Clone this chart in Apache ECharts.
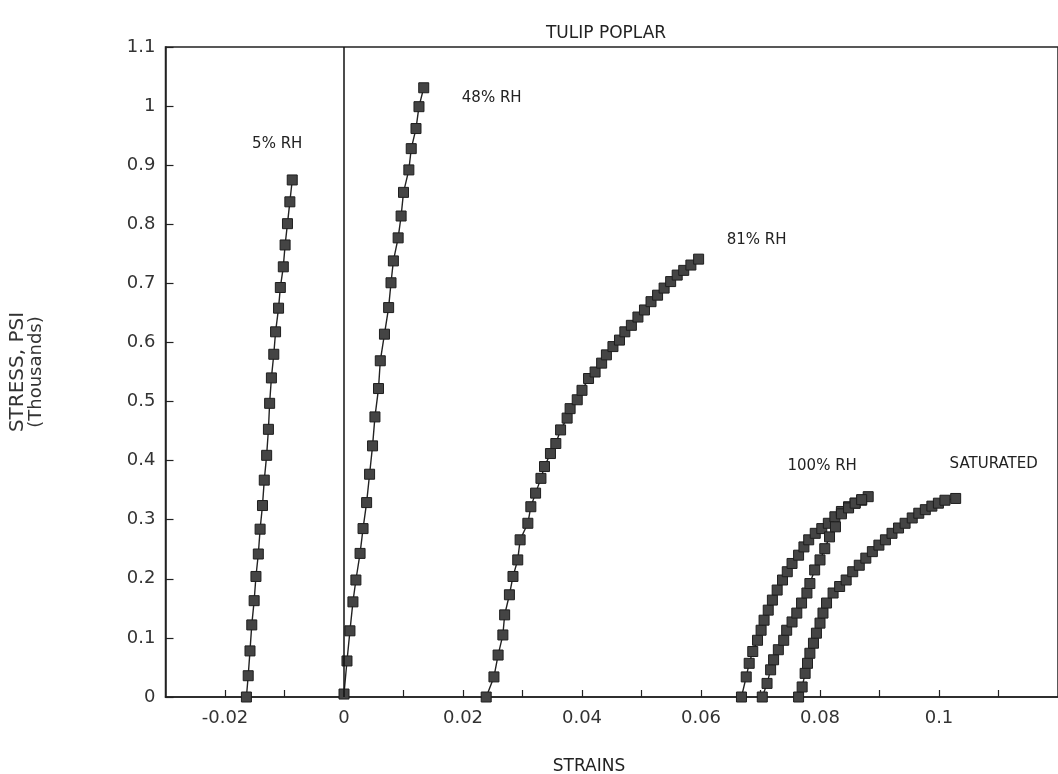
<!DOCTYPE html>
<html>
<head>
<meta charset="utf-8">
<script src="https://cdn.jsdelivr.net/npm/echarts@6/dist/echarts.min.js"></script>
<style>
html,body{margin:0;padding:0;background:#fff;}
#chart{width:1058px;height:774px;}
</style>
</head>
<body>
<div id="chart"></div>
<script>
// ---- data (strain, stress in thousands psi) ----
const strain5 = [-0.0164,-0.0161,-0.0158,-0.0155,-0.0151,-0.0148,-0.0144,-0.0141,-0.0137,-0.0134,-0.0130,-0.0127,-0.0125,-0.0122,-0.0118,-0.0115,-0.0110,-0.0107,-0.0102,-0.0099,-0.0095,-0.0091,-0.0087];
const stress5 = [0,0.036,0.078,0.122,0.163,0.204,0.242,0.284,0.324,0.367,0.409,0.453,0.497,0.540,0.580,0.618,0.658,0.693,0.728,0.765,0.801,0.838,0.875];

const strain48 = [0.0000,0.0005,0.0010,0.0015,0.0020,0.0027,0.0032,0.0038,0.0043,0.0048,0.0052,0.0058,0.0061,0.0068,0.0075,0.0079,0.0083,0.0091,0.0096,0.0100,0.0109,0.0113,0.0121,0.0126,0.0134];
const stress48 = [0.005,0.061,0.112,0.161,0.198,0.243,0.285,0.329,0.377,0.425,0.474,0.522,0.569,0.614,0.659,0.701,0.738,0.777,0.814,0.854,0.892,0.928,0.962,0.999,1.031];

const strain81 = [0.0239,0.0252,0.0259,0.0267,0.0270,0.0278,0.0284,0.0292,0.0296,0.0309,0.0314,0.0322,0.0331,0.0337,0.0347,0.0356,0.0364,0.0375,0.0380,0.0392,0.0400,0.0411,0.0422,0.0433,0.0441,0.0452,0.0463,0.0472,0.0483,0.0494,0.0505,0.0516,0.0527,0.0538,0.0549,0.0560,0.0571,0.0583,0.0596];
const stress81 = [0,0.034,0.071,0.105,0.139,0.173,0.204,0.232,0.266,0.294,0.322,0.345,0.370,0.390,0.412,0.429,0.452,0.472,0.488,0.503,0.519,0.539,0.550,0.565,0.579,0.593,0.604,0.618,0.629,0.643,0.655,0.669,0.680,0.692,0.703,0.714,0.722,0.731,0.741];

const strain100a = [0.0668,0.0676,0.0681,0.0687,0.0695,0.0701,0.0706,0.0713,0.0720,0.0728,0.0737,0.0745,0.0753,0.0764,0.0773,0.0781,0.0792,0.0803,0.0814,0.0825,0.0836,0.0848,0.0859,0.0870,0.0881];
const stress100a = [0,0.034,0.057,0.077,0.096,0.113,0.130,0.147,0.164,0.181,0.198,0.212,0.226,0.240,0.254,0.266,0.277,0.285,0.294,0.305,0.314,0.322,0.328,0.333,0.339];

const strain100b = [0.0703,0.0711,0.0717,0.0722,0.0730,0.0739,0.0744,0.0753,0.0761,0.0769,0.0778,0.0783,0.0791,0.0800,0.0808,0.0816,0.0826,0.0836,0.0848,0.0859,0.0870];
const stress100b = [0,0.023,0.046,0.063,0.080,0.096,0.113,0.127,0.142,0.159,0.176,0.192,0.215,0.232,0.251,0.271,0.288,0.310,0.320,0.328,0.334];

const strainSat = [0.0764,0.0770,0.0775,0.0779,0.0783,0.0789,0.0794,0.0800,0.0805,0.0811,0.0822,0.0833,0.0844,0.0855,0.0866,0.0877,0.0888,0.0899,0.0910,0.0921,0.0932,0.0943,0.0955,0.0966,0.0977,0.0988,0.0999,0.1010,0.1028];
const stressSat = [0,0.017,0.040,0.057,0.074,0.091,0.108,0.125,0.142,0.159,0.176,0.187,0.198,0.212,0.223,0.235,0.246,0.257,0.266,0.277,0.286,0.294,0.303,0.311,0.317,0.323,0.328,0.333,0.336];

const curveLabels = ['5% RH','48% RH','81% RH','100% RH','','SATURATED'];
const yTicks = [0,0.1,0.2,0.3,0.4,0.5,0.6,0.7,0.8,0.9,1,1.1];

const FONT = 'DejaVu Sans';
const INK = '#222';

function pairs(xs, ys){ return xs.map((x,i)=>[x, ys[i]]); }

function makeSeries(xs, ys, label, labelOffset){
  const data = pairs(xs, ys).map((p, i, arr) => {
    if (i === arr.length - 1 && label) {
      return {value: p, label: {show: true, formatter: label, position: 'inside',
        offset: labelOffset, color: INK, fontFamily: FONT, fontSize: 15}};
    }
    return p;
  });
  return {
    type: 'line',
    data: data,
    symbol: 'rect',
    symbolSize: 10,
    showAllSymbol: true,
    itemStyle: {color: '#444', borderColor: '#1e1e1e', borderWidth: 1},
    lineStyle: {color: INK, width: 1.4},
    label: {show: false},
    emphasis: {disabled: true},
    animation: false,
    z: 3
  };
}

const series = [
  makeSeries(strain5, stress5, curveLabels[0], [-15, -36]),
  makeSeries(strain48, stress48, curveLabels[1], [68, 10]),
  makeSeries(strain81, stress81, curveLabels[2], [58, -19]),
  makeSeries(strain100a, stress100a, curveLabels[3], [-46, -31]),
  makeSeries(strain100b, stress100b, curveLabels[4], [0, 0]),
  makeSeries(strainSat, stressSat, curveLabels[5], [38, -34])
];
series[1].markLine = {
  silent: true, symbol: 'none', animation: false,
  label: {show: false},
  lineStyle: {color: '#111', width: 1.5, type: 'solid'},
  data: [{xAxis: 0}]
};

const chart = echarts.init(document.getElementById('chart'), null, {renderer: 'canvas'});
chart.setOption({
  backgroundColor: '#fff',
  animation: false,
  title: [
    {text: 'TULIP POPLAR', left: 601, top: 20, textAlign: 'center',
     textStyle: {fontFamily: FONT, fontSize: 17, fontWeight: 'normal', color: INK}},
    {text: 'STRAINS', left: 584, top: 753, textAlign: 'center',
     textStyle: {fontFamily: FONT, fontSize: 17, fontWeight: 'normal', color: INK}}
  ],
  grid: {left: 164, top: 47, width: 905, height: 650, show: true,
         borderColor: INK, borderWidth: 1.5, backgroundColor: 'transparent'},
  xAxis: {
    type: 'value', min: -0.03, max: 0.12, interval: 0.01,
    axisLine: {show: true, onZero: false, lineStyle: {color: INK, width: 1.5}},
    axisTick: {show: true, inside: true, length: 7, lineStyle: {color: INK, width: 1.2}},
    splitLine: {show: false},
    axisLabel: {
      margin: 12, color: '#333', fontFamily: FONT, fontSize: 18,
      showMinLabel: false, showMaxLabel: false,
      formatter: function(v){
        const k = Math.round(v * 100);
        if (k % 2 !== 0 || k < -2 || k > 10) return '';
        return String(parseFloat((k / 100).toFixed(2)));
      }
    }
  },
  yAxis: {
    type: 'value', min: 0, max: 1.1, interval: 0.1,
    axisLine: {show: true, onZero: false, lineStyle: {color: INK, width: 1.5}},
    axisTick: {show: true, inside: true, length: 8, lineStyle: {color: INK, width: 1.2}},
    splitLine: {show: false},
    axisLabel: {
      margin: 10, color: '#333', fontFamily: FONT, fontSize: 18,
      formatter: function(v){
        const r = Math.round(v * 10) / 10;
        return yTicks.indexOf(r) >= 0 ? String(r) : '';
      }
    },
    name: '{a|STRESS, PSI}\n{b|(Thousands)}',
    nameLocation: 'middle',
    nameRotate: 90,
    nameGap: 121,
    nameTextStyle: {
      color: '#333',
      rich: {
        a: {fontFamily: FONT, fontSize: 20, lineHeight: 19, color: '#333'},
        b: {fontFamily: FONT, fontSize: 18, lineHeight: 17, color: '#333'}
      }
    }
  },
  series: series
});
</script>
</body>
</html>
